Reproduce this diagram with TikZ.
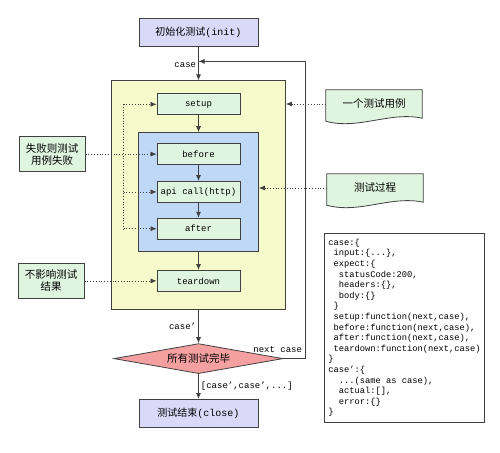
\documentclass[tikz,border=0pt]{standalone}
\usepackage{fontspec}
\setmonofont{Liberation Mono}
\newfontfamily\cjk{Noto Sans CJK SC}
\usetikzlibrary{shapes.geometric,arrows.meta,positioning,calc,backgrounds}
\definecolor{linegray}{RGB}{64,64,64}
\definecolor{initblue}{RGB}{218,218,248}
\definecolor{caseyellow}{RGB}{246,250,202}
\definecolor{hookblue}{RGB}{190,216,245}
\definecolor{stepgreen}{RGB}{224,245,224}
\definecolor{donered}{RGB}{245,160,160}
\newcommand\pad[1]{\hspace*{#1\fontdimen2\font}}
\tikzset{
  startbox/.style={rectangle,draw=linegray,fill=initblue,line width=0.8pt,
                   minimum width=119pt,minimum height=28pt,
                   font=\cjk\fontsize{10}{12}\selectfont},
  casearea/.style={rectangle,draw=linegray,fill=caseyellow,line width=0.8pt,
                   minimum width=174pt,minimum height=229pt},
  hookarea/.style={rectangle,draw=linegray,fill=hookblue,line width=0.8pt,
                   minimum width=120pt,minimum height=119pt},
  stepbox/.style ={rectangle,draw=linegray,fill=stepgreen,line width=0.8pt,
                   minimum width=83pt,minimum height=21pt,
                   font=\ttfamily\fontsize{9}{10}\selectfont},
  notebox/.style ={rectangle,draw=linegray,fill=stepgreen,line width=0.8pt,
                   minimum width=66pt,minimum height=35pt,align=center,
                   font=\cjk\fontsize{10.5}{12}\selectfont},
  docnote/.style ={rectangle,minimum width=96pt,minimum height=28pt,
                   font=\cjk\fontsize{10.5}{12}\selectfont},
  docline/.style ={draw=linegray,fill=stepgreen,line width=0.8pt},
  donecheck/.style={diamond,draw=linegray,fill=donered,line width=0.8pt,
                   minimum width=169pt,minimum height=30pt,aspect=5.6,
                   inner sep=2pt,font=\cjk\fontsize{10.5}{12}\selectfont},
  codebox/.style ={rectangle,draw=linegray,fill=white,line width=0.8pt,
                   align=left,anchor=north west,inner sep=2pt,
                   minimum width=160pt,minimum height=189pt,
                   font=\ttfamily\fontsize{8.75}{10.6}\selectfont},
  lbl/.style     ={font=\ttfamily\fontsize{9}{10}\selectfont,inner sep=2pt},
  arr/.style     ={-{Latex[length=6pt,width=5pt]},line width=0.8pt,draw=linegray},
  dotarr/.style  ={arr,dotted,line width=0.7pt},
  dotline/.style ={dotted,line width=0.7pt,draw=linegray}
}
\begin{document}
\begin{tikzpicture}[x=1pt,y=-1pt]
  \useasboundingbox (0,0) rectangle (500,452);
  \node (init)     [startbox] at (198.5,32)            {初始化测试\texttt{(init)}};
  \node (casebox)  [casearea, below=34pt of init]       {};
  \node (setup)    [stepbox, below=13pt of casebox.north] {setup};
  \node (hookbox)  [hookarea, below=17pt of setup]      {};
  \node (before)   [stepbox, below=11pt of hookbox.north] {before};
  \node (api)      [stepbox, below=16pt of before]      {api call(http)};
  \node (after)    [stepbox, below=15pt of api]         {after};
  \node (teardown) [stepbox, below=18pt of hookbox]     {teardown};
  \node (alldone)  [donecheck, below=33pt of casebox]   {所有测试完毕};
  \node (closing)  [startbox, below=25pt of alldone]    {测试结束\texttt{(close)}};

  \node (failnote) [notebox, left=71pt of before]       {失败则测试\\用例失败};
  \node (keepnote) [notebox, left=72pt of teardown]     {不影响测试\\结果};
  \node (casedoc)  [docnote] at (374,104)               {一个测试用例};
  \node (procdoc)  [docnote] at (375,188)               {测试过程};
  \node (spec)     [codebox] at (324,233) {case:\{\\
\pad{1}input:\{...\},\\
\pad{1}expect:\{\\
\pad{2}statusCode:200,\\
\pad{2}headers:\{\},\\
\pad{2}body:\{\}\\
\pad{1}\}\\
\pad{1}setup:function(next,case),\\
\pad{1}before:function(next,case),\\
\pad{1}after:function(next,case),\\
\pad{1}teardown:function(next,case)\\
\}\\
case’:\{\\
\pad{2}...(same as case),\\
\pad{2}actual:[],\\
\pad{2}error:\{\}\\
\}};

  % wavy note outlines
  \begin{scope}[on background layer]
    \foreach \d in {casedoc,procdoc}
      \draw [docline] (\d.north west) -- ($(\d.south west)+(0,3)$)
        .. controls +(32,9) and +(-32,-7) .. (\d.south east) -- (\d.north east) -- cycle;
  \end{scope}

  \draw [arr] (init) -- node[lbl, left, pos=0.56] {case} (casebox);
  \draw [arr] (setup) -- (hookbox);
  \draw [arr] (before) -- (api);
  \draw [arr] (api) -- (after);
  \draw [arr] (hookbox) -- (teardown);
  \draw [arr] (casebox) -- node[lbl, left] {case’} (alldone);
  \draw [arr] (alldone) -- node[lbl, right, pos=0.48] {[case’,case’,...]} (closing);
  \coordinate (rejoin) at ($(init.south)!0.44!(casebox.north)$);
  \draw [arr] (alldone.east) -- ++(22,0)
    node[lbl, above left, yshift=4pt, xshift=-1pt] {next case} |- (rejoin);

  \coordinate (hooktop) at ($(setup.west)+(-33,0)$);
  \coordinate (hookbot) at (hooktop |- after.west);
  \draw [dotline] (hooktop) -- (hookbot);
  \draw [dotarr] (hooktop) -- (setup.west);
  \draw [dotarr] (hooktop |- api.west) -- (api.west);
  \draw [dotarr] (hookbot) -- (after.west);
  \draw [dotarr] (failnote) -- (before);
  \draw [dotarr] (keepnote) -- (teardown);
  \draw [dotarr] (casedoc.west) -- (casedoc.west -| casebox.east);
  \draw [dotarr] (procdoc.west) -- (procdoc.west -| hookbox.east);
\end{tikzpicture}
\end{document}
